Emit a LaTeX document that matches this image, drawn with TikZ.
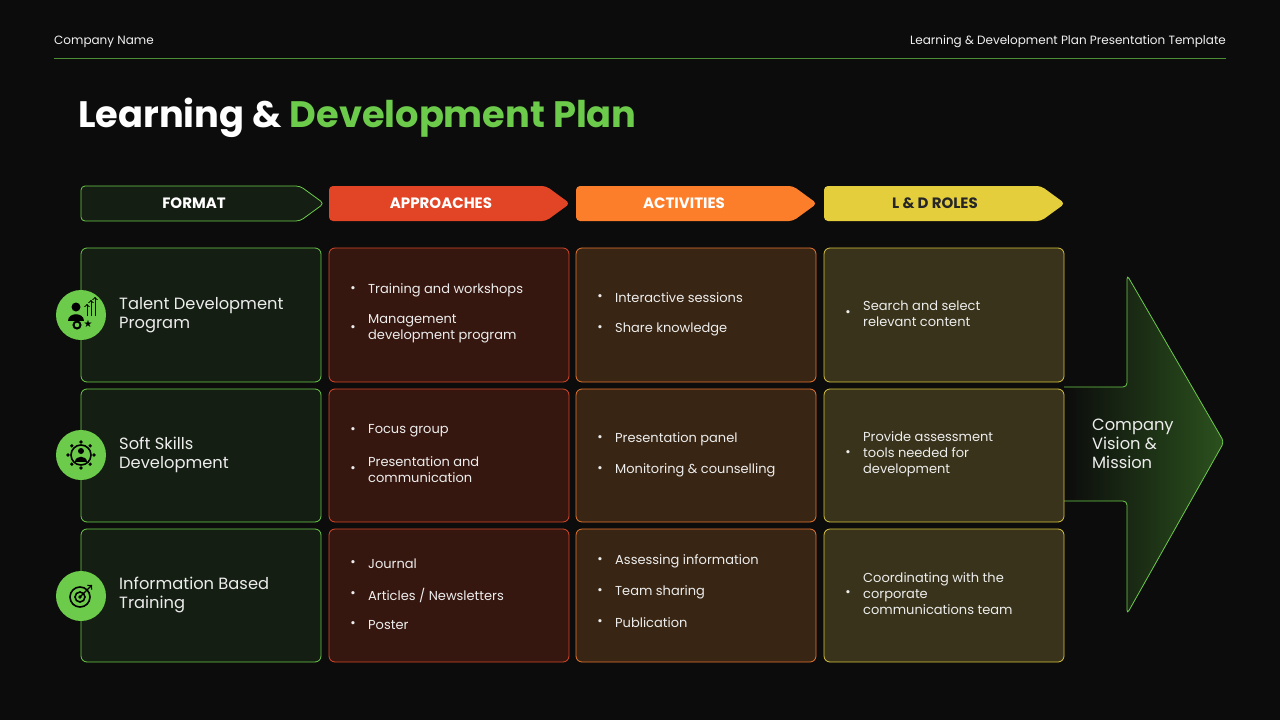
\documentclass[tikz,border=0pt]{standalone}
\usepackage{fontspec}
\setmainfont{Poppins}
\newfontfamily\djv{DejaVu Sans}
\usetikzlibrary{shapes.geometric}
\definecolor{bg}{HTML}{0C0C0C}
\definecolor{grn}{HTML}{6CCB4A}
\definecolor{fmtF}{HTML}{141E12}
\definecolor{apF}{HTML}{36170F}
\definecolor{apB}{HTML}{D9482B}
\definecolor{acF}{HTML}{382513}
\definecolor{acB}{HTML}{E8772E}
\definecolor{roF}{HTML}{38331A}
\definecolor{roB}{HTML}{D8C43E}
\definecolor{hAp}{HTML}{E24525}
\definecolor{hAc}{HTML}{FD7E2A}
\definecolor{hRo}{HTML}{E4CE3C}
\definecolor{txt}{HTML}{EDEDED}
\tikzset{
 cell/.style={rounded corners=6pt, line width=0.8pt},
 btxt/.style={anchor=west, text=txt, font=\fontsize{13}{16}\selectfont, align=left, inner sep=0pt},
 ftxt/.style={anchor=west, text=txt, font=\fontsize{16.3}{19}\selectfont, align=left, inner sep=0pt},
 htxt/.style={font=\fontsize{15}{17}\selectfont\bfseries},
 ico/.style={circle, fill=grn, minimum size=50pt, inner sep=0pt}
}
\newcommand{\bl}[4]{\node[btxt] (#1) at (#2,#3) {#4};\node[text=txt,font=\fontsize{13}{13}\selectfont,inner sep=0pt] at (#2-15,#3) {\textbullet};}
\begin{document}
\begin{tikzpicture}[x=1pt,y=-1pt]
\fill[bg] (0,0) rectangle (1280,720);
\useasboundingbox (0,0) rectangle (1280,720);
\node[anchor=west,text=txt!80,font=\fontsize{12}{14}\selectfont,inner sep=0pt] (cn) at (54,42) {Company Name};
\node[anchor=east,text=txt!80,font=\fontsize{12}{14}\selectfont,inner sep=0pt] (tp) at (1226,42) {Learning \& Development Plan Presentation Template};
\draw[grn!70!black, line width=0.6pt] (54,58) -- (1226,58);
\node[anchor=west,inner sep=0pt,font=\fontsize{36.8}{40}\selectfont\bfseries] (title) at (78,118) {\textcolor{white}{Learning \&} \textcolor{grn}{Development Plan}};
% header chevrons
\draw[fill=fmtF, draw=grn, line width=0.8pt, rounded corners=4pt] (81,186) -- (300,186) -- (324,203.5) -- (300,221) -- (81,221) -- cycle;
\node[htxt,text=white] (h1) at (194,203.5) {FORMAT};
\fill[hAp, rounded corners=4pt] (329,186) -- (546,186) -- (570,203.5) -- (546,221) -- (329,221) -- cycle;
\node[htxt,text=white] (h2) at (441,203.5) {APPROACHES};
\fill[hAc, rounded corners=4pt] (576,186) -- (793,186) -- (817,203.5) -- (793,221) -- (576,221) -- cycle;
\node[htxt,text=white] (h3) at (684,203.5) {ACTIVITIES};
\fill[hRo, rounded corners=4pt] (824,186) -- (1041,186) -- (1065,203.5) -- (1041,221) -- (824,221) -- cycle;
\node[htxt,text=black!85] (h4) at (935,203.5) {L \& D ROLES};
% big arrow
\shade[left color=bg, right color=grn!40!black, rounded corners=4pt] (1064,387) -- (1127,387) -- (1127,275) -- (1224,442) -- (1127,614) -- (1127,501) -- (1064,501) -- cycle;
\draw[grn, line width=0.8pt, rounded corners=4pt] (1064,387) -- (1127,387) -- (1127,275) -- (1224,442) -- (1127,614) -- (1127,501) -- (1064,501);
\node[anchor=west,text=txt,font=\fontsize{16.3}{19}\selectfont,align=left,inner sep=0pt] (cv) at (1092,444) {Company\\Vision \&\\Mission};
% cells
\foreach \ya/\yb in {248/382,389/522,529/662}{
 \draw[cell, fill=fmtF, draw=grn] (81,\ya) rectangle (321,\yb);
 \draw[cell, fill=apF, draw=apB] (329,\ya) rectangle (569,\yb);
 \draw[cell, fill=acF, draw=acB] (576,\ya) rectangle (816,\yb);
 \draw[cell, fill=roF, draw=roB] (824,\ya) rectangle (1064,\yb);
}
% format
\node[ico] (i1) at (81,315) {};
\node[ico] (i2) at (81,455) {};
\node[ico] (i3) at (81,596) {};
% icon 1
\fill[black] (76,307) circle (4.5);
\fill[black] (68,321) .. controls (68,312) and (84,312) .. (84,321) -- cycle;
\draw[black,line width=2pt] (77,325) circle (3.5);
\node[text=black,inner sep=0pt,font=\djv\fontsize{10}{10}\selectfont] at (88,324) {★};
\draw[black,line width=1pt,->] (87,316) -- (87,304);
\draw[black,line width=1pt,->] (91,316) -- (91,300);
\draw[black,line width=1pt,->] (95,316) -- (95,297);
% icon 2
\draw[black,line width=1.6pt] (81,455) circle (10);
\foreach \a in {0,45,...,315} \fill[black] (81,455) ++(\a:13) circle (1.8);
\fill[black] (81,451) circle (3);
\fill[black] (75,462) .. controls (75,455) and (87,455) .. (87,462) -- cycle;
% icon 3
\draw[black,line width=1.6pt] (80,597) circle (10);
\draw[black,line width=1.6pt] (80,597) circle (5);
\fill[black] (80,597) circle (1.8);
\draw[black,line width=1.4pt,->] (80,597) -- (92,585);
\node[ftxt] (f1) at (119,315) {Talent Development\\Program};
\node[ftxt] (f2) at (119,455) {Soft Skills\\Development};
\node[ftxt] (f3) at (119,595) {Information Based\\Training};
% approaches
\bl{a1}{368}{290}{Training and workshops}
\bl{a2}{368}{329}{Management\\development program}
\bl{a3}{368}{431}{Focus group}
\bl{a4}{368}{470}{Presentation and\\communication}
\bl{a5}{368}{564}{Journal}
\bl{a6}{368}{595}{Articles / Newsletters}
\bl{a7}{368}{625}{Poster}
% activities
\bl{b1}{615}{298}{Interactive sessions}
\bl{b2}{615}{329}{Share knowledge}
\bl{b3}{615}{439}{Presentation panel}
\bl{b4}{615}{470}{Monitoring \& counselling}
\bl{b5}{615}{561}{Assessing information}
\bl{b6}{615}{592}{Team sharing}
\bl{b7}{615}{623}{Publication}
% roles
\bl{c1}{863}{314}{Search and select\\relevant content}
\bl{c2}{863}{454}{Provide assessment\\tools needed for\\development}
\bl{c3}{863}{594}{Coordinating with the\\corporate\\communications team}
\end{tikzpicture}
\end{document}
